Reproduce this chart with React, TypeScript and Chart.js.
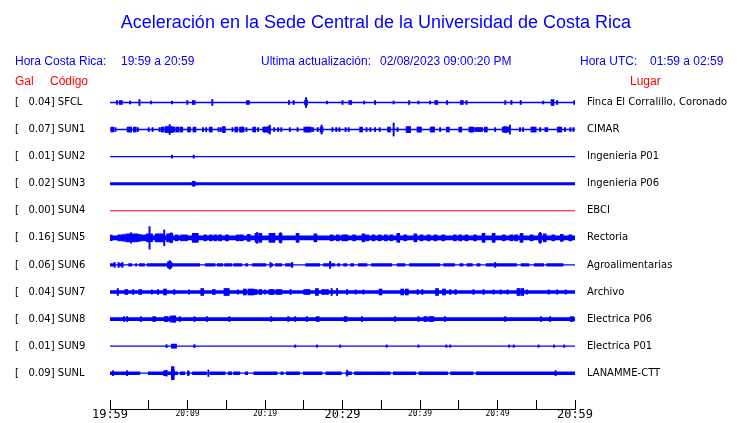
import React, { useEffect, useRef } from "react";
import { Chart, registerables } from "chart.js";

Chart.register(...registerables);

// ---------- data ----------
const stationCodes = ["SFCL", "SUN1", "SUN2", "SUN3", "SUN4", "SUN5", "SUN6", "SUN7", "SUN8", "SUN9", "SUNL"];
const peakGal = [0.04, 0.07, 0.01, 0.02, 0.0, 0.16, 0.06, 0.04, 0.04, 0.01, 0.09];
const placeNames = [
  "Finca El Corralillo, Coronado", "CIMAR", "Ingenieria P01", "Ingenieria P06", "EBCI", "Rectoria",
  "Agroalimentarias", "Archivo", "Electrica P06", "Electrica P01", "LANAMME-CTT",
];
const timeLabels = ["19:59", "20:04", "20:09", "20:14", "20:19", "20:24", "20:29", "20:34", "20:39", "20:44", "20:49", "20:54", "20:59"];
const minutesPerTick = 5;

// continuous-noise segments [startMin, endMin]
const bandSFCL: number[][] = [];
const bandSUN1: number[][] = [];
const bandSUN2: number[][] = [];
const bandSUN3 = [[0, 60]];
const bandSUN4: number[][] = [];
const bandSUN5 = [[0, 60]];
const bandSUN6 = [[0, 0.65], [1.05, 1.7], [2.35, 2.85], [3.25, 3.5], [3.75, 4.5], [4.75, 11.6], [12.25, 13.6], [13.8, 14.6], [14.75, 15.75], [15.9, 17.05], [17.45, 17.8], [18.35, 20.15], [20.65, 21.05], [21.3, 22.2], [22.6, 23.65], [25.2, 27.1], [27.5, 29.05], [29.3, 29.7], [30.1, 30.6], [31.0, 31.5], [32.0, 33.2], [33.7, 36.4], [37.0, 38.1], [38.6, 42.6], [43.0, 44.5], [45.1, 45.6], [46.0, 46.8], [47.3, 47.8], [48.5, 52.5], [53.0, 54.1], [54.7, 56.0], [56.3, 58.5]];
const bandSUN7 = [[0, 60]];
const bandSUN8 = [[0, 60]];
const bandSUN9: number[][] = [];
const bandSUNL = [[0, 3.9], [4.9, 7.4], [7.4, 8.8], [9.0, 9.7], [9.95, 10.3], [10.6, 12.5], [12.9, 14.9], [15.2, 15.75], [15.9, 16.8], [17.4, 17.8], [18.5, 21.6], [22.0, 22.4], [22.7, 24.5], [24.9, 27.4], [27.8, 29.9], [30.4, 31.2], [31.5, 36.2], [36.5, 39.5], [39.8, 43.6], [43.9, 46.9], [47.2, 60]];

// narrow spikes [minute, half amplitude]
const spikesSFCL = [[0.9, 2], [2.6, 1.5], [3.8, 3], [5.3, 1.5], [8.0, 1.5], [9.97, 2], [13.2, 3], [23.1, 2], [23.7, 2], [25.3, 5], [28.0, 1.5], [30.0, 2], [32.8, 1.5], [34.2, 2], [36.6, 1.5], [38.6, 2], [39.8, 1.5], [41.3, 1.5], [43.5, 2], [46.0, 2], [51.0, 2], [51.8, 2], [53.0, 2], [55.9, 1.5], [57.7, 2], [59.9, 2]];
const spikesSUN1 = [[0.7, 2], [3.6, 2], [5.0, 2], [5.5, 2], [6.4, 2], [7.7, 5], [12.0, 2], [12.4, 2], [14.0, 2], [14.3, 2], [15.8, 2], [17.6, 2], [19.1, 2], [20.6, 4.5], [21.2, 2], [21.7, 2], [22.1, 2], [23.2, 2], [24.2, 2], [26.2, 2], [26.8, 2], [27.3, 4.5], [28.7, 2], [29.2, 2], [29.6, 2], [30.4, 2], [30.8, 2], [33.1, 2], [33.6, 2], [34.2, 2], [34.8, 2], [36.6, 6.5], [37.1, 2], [42.6, 2], [49.7, 2], [51.6, 4.5], [52.9, 2], [53.3, 2], [55.5, 2], [58.7, 2], [59.4, 2], [59.8, 2]];
const spikesSUN2 = [[8.0, 1.5], [10.8, 1.5]];
const spikesSUN3: number[][] = [];
const spikesSUN4: number[][] = [];
const spikesSUN5 = [[2.7, 5.2], [5.1, 11.3], [7.0, 8], [7.9, 5], [19.0, 5.5], [22.0, 5.2], [55.5, 5.5]];
const spikesSUN6 = [[0.6, 2.5], [1.1, 2.5], [1.6, 2.5], [7.7, 4.3], [20.7, 2.5], [23.5, 2.5], [28.4, 3.5], [49.7, 2.5]];
const spikesSUN7 = [[1.0, 3.5], [3.0, 2.5], [5.4, 2.2], [6.2, 2.5], [8.3, 2.5], [10.2, 2.2], [16.5, 2.2], [20.0, 2.2], [23.3, 2.5], [28.6, 3.5], [29.3, 3.5], [30.6, 2.5], [31.7, 2.2], [32.7, 2.2], [39.7, 2.5], [40.3, 2.5], [43.9, 2.5], [44.6, 2.5], [46.9, 2.5], [48.2, 2.5], [49.5, 2.2], [50.4, 2.2], [51.3, 2.2], [53.8, 2.2], [56.6, 2.2], [57.7, 2.2], [58.8, 2.2]];
const spikesSUN8 = [[1.8, 2.5], [2.2, 2.5], [4.0, 2.5], [7.1, 2.5], [9.0, 2.5], [10.9, 2.5], [12.5, 2.5], [15.4, 2.5], [20.8, 2.5], [23.0, 2.5], [23.9, 2.5], [25.4, 2.5], [32.5, 2.5], [36.8, 2.5], [39.8, 2.5], [43.2, 2.5], [51.0, 2.5], [55.6, 2.5], [56.8, 2.5]];
const spikesSUN9 = [[7.3, 1.5], [10.9, 1.5], [23.9, 1.2], [26.7, 1.2], [29.7, 1.2], [35.7, 1.2], [39.8, 1.2], [43.4, 1.2], [43.9, 1.2], [51.5, 1.2], [52.1, 1.2], [55.3, 1.2], [57.3, 1.2], [58.6, 1.2]];
const spikesSUNL = [[0.4, 2.5], [2.2, 2.5], [7.3, 3], [8.0, 6.5], [8.2, 6.5], [10.1, 2.5], [12.7, 3.3], [30.6, 3], [57.5, 2.5]];

// short bursts [minute, half amplitude]
const burstsSFCL = [[1.4, 2], [10.8, 2], [17.8, 2], [25.3, 2.5], [31.0, 2], [42.1, 2], [45.4, 2], [57.1, 3]];
const burstsSUN1 = [[0.3, 2.5], [2.4, 2.5], [2.6, 2.5], [3.2, 2.5], [6.8, 2.5], [7.3, 3], [7.6, 3], [7.9, 3], [8.2, 2.5], [8.7, 2.5], [9.2, 2.5], [10.2, 2.5], [10.9, 2.5], [13.0, 2.5], [14.7, 3], [16.3, 2.5], [16.9, 2.5], [17.1, 2.5], [18.6, 2.5], [19.9, 2.5], [20.1, 2.5], [20.5, 3], [25.2, 2.5], [25.5, 2.5], [25.8, 2.5], [27.3, 2.5], [32.4, 2.5], [36.0, 2.5], [38.4, 3], [38.6, 3], [39.8, 2.5], [40.0, 2.5], [41.5, 2.5], [41.7, 2.5], [43.6, 2.5], [45.2, 2.5], [46.5, 2.5], [46.8, 2.5], [47.3, 2], [47.6, 2], [47.9, 2], [48.5, 2.5], [50.8, 2.5], [51.0, 3], [51.3, 2.5], [54.5, 2.5], [54.8, 2.5], [56.3, 2], [57.9, 2.5], [58.1, 2.5]];
const burstsSUN2: number[][] = [];
const burstsSUN3 = [[10.8, 2.5]];
const burstsSUN4: number[][] = [];
const burstsSUN5 = [[0.1, 2.8], [1.2, 3], [1.7, 3.3], [2.2, 4], [2.6, 4], [3.0, 4], [3.4, 4], [3.7, 3.5], [4.0, 3], [4.5, 3], [4.9, 4], [5.3, 4], [6.0, 4], [6.3, 4], [6.7, 4], [7.5, 4], [7.9, 4.5], [8.6, 3], [9.3, 3], [9.8, 3], [10.8, 4.5], [11.2, 4.5], [12.3, 3], [13.0, 3], [13.6, 3], [14.2, 3], [15.1, 3], [16.5, 3], [17.0, 3], [17.9, 3.5], [18.9, 4.5], [19.4, 4.5], [20.7, 4.5], [21.1, 4.5], [22.0, 4.5], [24.2, 4.5], [26.5, 4], [28.6, 3], [29.4, 3], [30.1, 3], [30.5, 3], [31.5, 3], [32.7, 4], [33.2, 3], [34.0, 3], [34.8, 3], [35.6, 3], [36.3, 3], [37.2, 4.5], [38.1, 3], [39.4, 4], [40.2, 3], [41.1, 3], [42.0, 3], [43.0, 3], [44.5, 3], [45.2, 3], [46.0, 3], [47.1, 3], [48.2, 4.5], [49.5, 4.5], [50.8, 3], [51.8, 3], [52.4, 3], [53.1, 4.5], [54.4, 3], [55.5, 4.5], [56.1, 4], [57.2, 3], [58.3, 3.5], [59.4, 3]];
const burstsSUN6 = [[7.6, 3], [7.8, 3]];
const burstsSUN7 = [[2.1, 2.5], [3.9, 2.5], [7.1, 3], [11.9, 3.5], [13.4, 2.5], [14.9, 3.5], [15.2, 3.5], [17.4, 3], [18.0, 3], [18.4, 3], [18.8, 2.5], [19.4, 2.5], [20.7, 2.5], [21.0, 2.5], [21.6, 2.5], [22.0, 2.5], [25.2, 2.5], [25.6, 2.5], [26.7, 3.5], [27.5, 2.5], [28.0, 2.5], [34.9, 3], [37.7, 3], [38.3, 3], [42.2, 3.5], [43.1, 3], [52.7, 3.5], [53.2, 3.5]];
const burstsSUN8 = [[5.7, 2.5], [7.3, 2.5], [7.9, 3], [8.3, 3.3], [26.8, 2.5], [30.4, 2.5], [40.7, 2.5], [41.3, 2.5], [41.6, 2.5], [59.6, 2.5]];
const burstsSUN9 = [[8.1, 2], [8.4, 2]];
const burstsSUNL = [[7.1, 2.5], [8.1, 3]];

const bands = [bandSFCL, bandSUN1, bandSUN2, bandSUN3, bandSUN4, bandSUN5, bandSUN6, bandSUN7, bandSUN8, bandSUN9, bandSUNL];
const spikes = [spikesSFCL, spikesSUN1, spikesSUN2, spikesSUN3, spikesSUN4, spikesSUN5, spikesSUN6, spikesSUN7, spikesSUN8, spikesSUN9, spikesSUNL];
const bursts = [burstsSFCL, burstsSUN1, burstsSUN2, burstsSUN3, burstsSUN4, burstsSUN5, burstsSUN6, burstsSUN7, burstsSUN8, burstsSUN9, burstsSUNL];

// ---------- styles ----------
const BLUE = "#0000ff";
const RED = "#ff0000";
const ROW = 27.07;
const lineW = [1.5, 1.5, 1.2, 1, 1, 1, 1.2, 1, 1, 1.2, 1.2];
const bandW = [0, 0, 0, 3, 0, 4.6, 3.4, 3.4, 3.7, 0, 3.4];
const offlineIndex = 4;

function fmtLabel(i: number) {
  return "[   " + peakGal[i].toFixed(2) + "] " + stationCodes[i];
}

export default function App() {
  const ref = useRef<HTMLCanvasElement>(null);

  useEffect(() => {
    const canvas = ref.current;
    if (!canvas) return;
    Chart.defaults.font.family = "'DejaVu Sans'";
    const datasets: any[] = [];
    stationCodes.forEach((_, i) => {
      const b = i * ROW;
      const color = i === offlineIndex ? RED : BLUE;
      datasets.push({
        type: "line",
        data: [{ x: 0, y: b }, { x: 60, y: b }],
        borderColor: color,
        borderWidth: lineW[i],
        pointRadius: 0,
        yAxisID: "y",
      });
      if (bands[i].length) {
        const pts: any[] = [];
        bands[i].forEach(([s, e]) => {
          pts.push({ x: s, y: b }, { x: e, y: b }, { x: e, y: null });
        });
        datasets.push({
          type: "line",
          data: pts,
          borderColor: color,
          borderWidth: bandW[i],
          borderCapStyle: "butt",
          pointRadius: 0,
          spanGaps: false,
          yAxisID: "y",
        });
      }
      if (spikes[i].length) {
        datasets.push({
          type: "bar",
          data: spikes[i].map(([m, a]) => ({ x: m, y: [b - a, b + a] })),
          backgroundColor: color,
          borderWidth: 0,
          barThickness: 1.3,
          grouped: false,
          yAxisID: "y",
        });
      }
      if (bursts[i].length) {
        datasets.push({
          type: "bar",
          data: bursts[i].map(([m, a]) => ({ x: m, y: [b - a, b + a] })),
          backgroundColor: color,
          borderWidth: 0,
          barThickness: 3,
          grouped: false,
          yAxisID: "y",
        });
      }
    });

    const yMin = -14.5;
    const yMax = 306.5;
    const noPad = (s: any) => {
      s.paddingTop = 0;
      s.paddingBottom = 0;
    };

    const chart = new Chart(canvas, {
      type: "line",
      data: { datasets },
      options: {
        animation: false,
        responsive: false,
        events: [],
        layout: { padding: { left: 15, right: 0, top: 88, bottom: 0 } },
        plugins: { legend: { display: false }, tooltip: { enabled: false }, title: { display: false } },
        scales: {
          x: {
            type: "linear",
            min: 0,
            max: 60,
            offset: false,
            position: "bottom",
            grid: { display: true, drawOnChartArea: false, drawTicks: true, tickLength: -9, color: "#000", lineWidth: 1, offset: false },
            border: { display: true, color: "#000", width: 1 },
            afterBuildTicks: (s: any) => {
              s.ticks = timeLabels.map((_, k) => ({ value: k * minutesPerTick }));
            },
            afterFit: (s: any) => {
              s.height = 14;
            },
            ticks: {
              autoSkip: false,
              maxRotation: 0,
              padding: 8,
              color: "#000",
              callback: (_v: any, idx: number) => (idx % 2 === 0 ? timeLabels[idx] : ""),
              font: (c: any) =>
                c.index % 6 === 0
                  ? { family: "'DejaVu Sans Mono'", size: 12, lineHeight: 1.2 }
                  : { family: "'DejaVu Sans Mono'", size: 8, lineHeight: 1.5 },
            },
          },
          y: {
            type: "linear",
            position: "left",
            reverse: true,
            min: yMin,
            max: yMax,
            grid: { display: false, drawTicks: false },
            border: { display: false },
            afterBuildTicks: (s: any) => {
              s.ticks = stationCodes.map((_, k) => ({ value: k * ROW }));
            },
            afterFit: (s: any) => {
              s.width = 95;
              noPad(s);
            },
            ticks: {
              autoSkip: false,
              crossAlign: "far",
              padding: 0,
              color: "#000",
              font: { family: "'DejaVu Sans'", size: 10 },
              callback: (_v: any, idx: number) => fmtLabel(idx),
            },
          },
          y2: {
            type: "linear",
            position: "right",
            reverse: true,
            min: yMin,
            max: yMax,
            grid: { display: false, drawTicks: false },
            border: { display: false },
            afterBuildTicks: (s: any) => {
              s.ticks = placeNames.map((_, k) => ({ value: k * ROW }));
            },
            afterFit: (s: any) => {
              s.width = 165;
              noPad(s);
            },
            ticks: {
              autoSkip: false,
              crossAlign: "near",
              padding: 12,
              color: "#000",
              font: { family: "'DejaVu Sans'", size: 10 },
              callback: (_v: any, idx: number) => placeNames[idx],
            },
          },
        },
      } as any,
    });
    return () => chart.destroy();
  }, []);

  const txt = (left: number, top: number, color: string, size: number, text: string, extra: any = {}) => (
    <div
      style={{
        position: "absolute",
        left,
        top,
        color,
        fontSize: size,
        lineHeight: size === 18 ? "20px" : "14px",
        fontFamily: "'Liberation Sans', Arial, sans-serif",
        whiteSpace: "pre",
        ...extra,
      }}
    >
      {text}
    </div>
  );

  return (
    <div style={{ position: "fixed", left: 0, top: 0, width: 740, height: 423, background: "#fff", overflow: "hidden" }}>
      <canvas ref={ref} width={740} height={423} style={{ position: "absolute", left: 0, top: 0, width: 740, height: 423 }} />
      {txt(0, 12, BLUE, 18, "Aceleración en la Sede Central de la Universidad de Costa Rica", { width: 752, textAlign: "center", left: 0 })}
      {txt(15, 54, BLUE, 12, "Hora Costa Rica:")}
      {txt(121, 54, BLUE, 12, "19:59 a 20:59")}
      {txt(261, 54, BLUE, 12, "Ultima actualización:")}
      {txt(380, 54, BLUE, 12, "02/08/2023 09:00:20 PM")}
      {txt(580, 54, BLUE, 12, "Hora UTC:")}
      {txt(650, 54, BLUE, 12, "01:59 a 02:59")}
      {txt(15, 74, RED, 12, "Gal")}
      {txt(50, 74, RED, 12, "Código")}
      {txt(630, 74, RED, 12, "Lugar")}
    </div>
  );
}
